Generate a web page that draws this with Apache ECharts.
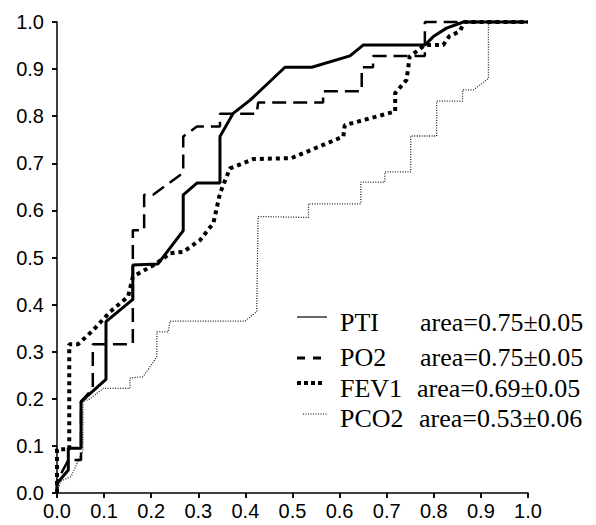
<!DOCTYPE html>
<html>
<head>
<meta charset="utf-8">
<script src="https://cdn.jsdelivr.net/npm/echarts@6/dist/echarts.min.js"></script>
<style>
    html, body { margin: 0; padding: 0; background: #fff; }
    #chart { width: 596px; height: 525px; }
</style>
</head>
<body>
<div id="chart"></div>
<script>
    // tick values (same on both axes)
    var ticks = [0, 0.1, 0.2, 0.3, 0.4, 0.5, 0.6, 0.7, 0.8, 0.9, 1.0];

    // ROC curves: [1 - specificity, sensitivity]
    var pti = [[0, 0], [0, 0.02], [0.024, 0.049], [0.024, 0.095], [0.051, 0.095], [0.051, 0.194],
        [0.104, 0.241], [0.104, 0.364], [0.161, 0.411], [0.161, 0.484], [0.214, 0.486],
        [0.268, 0.557], [0.268, 0.633], [0.297, 0.658], [0.346, 0.658], [0.346, 0.757],
        [0.374, 0.806], [0.41, 0.834], [0.484, 0.904], [0.541, 0.904], [0.622, 0.928],
        [0.65, 0.951], [0.781, 0.951], [0.799, 0.969], [0.827, 0.987], [0.863, 1.0], [1.0, 1.0]];

    var po2 = [[0, 0], [0, 0.025], [0.024, 0.07], [0.051, 0.07], [0.051, 0.194], [0.076, 0.222],
        [0.076, 0.316], [0.161, 0.316], [0.161, 0.558], [0.185, 0.558], [0.185, 0.633],
        [0.204, 0.633], [0.268, 0.68], [0.268, 0.757], [0.297, 0.778], [0.346, 0.778],
        [0.346, 0.805], [0.424, 0.805], [0.427, 0.829], [0.565, 0.829], [0.565, 0.853],
        [0.647, 0.853], [0.647, 0.904], [0.671, 0.904], [0.671, 0.928], [0.781, 0.928],
        [0.781, 1.0], [1.0, 1.0]];

    var fev1 = [[0, 0], [0, 0.093], [0.026, 0.093], [0.026, 0.316], [0.045, 0.316], [0.077, 0.346],
        [0.113, 0.385], [0.151, 0.417], [0.161, 0.459], [0.212, 0.488], [0.24, 0.509],
        [0.268, 0.512], [0.304, 0.537], [0.332, 0.573], [0.346, 0.636], [0.367, 0.689],
        [0.417, 0.709], [0.498, 0.711], [0.608, 0.757], [0.611, 0.781], [0.718, 0.81],
        [0.718, 0.849], [0.742, 0.877], [0.749, 0.927], [0.781, 0.951], [0.82, 0.951],
        [0.833, 0.97], [0.855, 0.98], [0.865, 1.0], [1.0, 1.0]];

    var pco2 = [[0, 0], [0.008, 0.025], [0.03, 0.035], [0.055, 0.09], [0.055, 0.194], [0.07, 0.2],
        [0.098, 0.222], [0.155, 0.222], [0.155, 0.244], [0.183, 0.247], [0.212, 0.289],
        [0.212, 0.342], [0.236, 0.342], [0.24, 0.365], [0.399, 0.365], [0.424, 0.385],
        [0.427, 0.587], [0.534, 0.585], [0.534, 0.614], [0.645, 0.614], [0.645, 0.66],
        [0.696, 0.66], [0.696, 0.682], [0.751, 0.682], [0.751, 0.758], [0.806, 0.758],
        [0.806, 0.832], [0.861, 0.832], [0.861, 0.856], [0.884, 0.856], [0.916, 0.88],
        [0.916, 1.0], [1.0, 1.0]];

    var names = ['PTI', 'PO2', 'FEV1', 'PCO2'];
    var areas = ['area=0.75±0.05', 'area=0.75±0.05', 'area=0.69±0.05', 'area=0.53±0.06'];

    var fmt = function (v) { return v.toFixed(1); };

    // one visible axis (outside ticks) + one overlay (inside ticks) so ticks cross the line
    var baseAxis = function (inside, show) {
        return {
            type: 'value', min: ticks[0], max: ticks[ticks.length - 1], interval: 0.1,
            axisLine: { show: show, lineStyle: { color: '#000', width: 1.5 } },
            axisTick: { show: true, inside: inside, length: 5, lineStyle: { color: '#000', width: 1.5 } },
            axisLabel: { show: show, formatter: fmt, color: '#000', fontFamily: 'Liberation Sans', fontSize: 20 },
            splitLine: { show: false }
        };
    };

    var xa = baseAxis(false, true); xa.axisLabel.margin = 8;
    var xb = baseAxis(true, false);
    var ya = baseAxis(false, true); ya.axisLabel.margin = 13;
    var yb = baseAxis(true, false);

    var line = function (name, data, style) {
        return {
            name: name, type: 'line', data: data, showSymbol: false, clip: false,
            lineStyle: style, silent: true
        };
    };

    // legend drawn as graphic
    var rows = [322, 357, 388, 418];
    var areaX = [420, 420, 417, 419];
    var samples = [
        { y: 317, x1: 297, x2: 327, style: { stroke: '#000', lineWidth: 1.2 } },
        { y: 358, x1: 297, x2: 324, style: { stroke: '#000', lineWidth: 3, lineDash: [8, 8] } },
        { y: 383, x1: 297, x2: 325, style: { stroke: '#000', lineWidth: 4, lineDash: [4, 3] } },
        { y: 414, x1: 303, x2: 328, style: { stroke: '#000', lineWidth: 1, lineDash: [1, 1.5] } }
    ];
    var graphics = [];
    for (var i = 0; i < 4; i++) {
        graphics.push({
            type: 'line', shape: { x1: samples[i].x1, y1: samples[i].y, x2: samples[i].x2, y2: samples[i].y },
            style: samples[i].style
        });
        graphics.push({
            type: 'text', x: 340, y: rows[i],
            style: { text: names[i], font: '26px "Liberation Serif"', fill: '#000', textVerticalAlign: 'middle' }
        });
        graphics.push({
            type: 'text', x: areaX[i], y: rows[i],
            style: { text: areas[i], font: '26px "Liberation Serif"', fill: '#000', textVerticalAlign: 'middle' }
        });
    }

    var option = {
        animation: false,
        backgroundColor: '#fff',
        grid: { left: 57, right: 68, top: 22, bottom: 32, containLabel: false },
        xAxis: [xa, xb],
        yAxis: [ya, yb],
        series: [
            line('PCO2', pco2, { color: '#222', width: 1.3, type: [1, 1.5] }),
            line('FEV1', fev1, { color: '#000', width: 4, type: [4, 4] }),
            line('PO2', po2, { color: '#000', width: 2.5, type: [14, 7] }),
            line('PTI', pti, { color: '#000', width: 3, type: 'solid' })
        ],
        graphic: graphics
    };

    var chart = echarts.init(document.getElementById('chart'), null, { renderer: 'svg' });
    chart.setOption(option);
</script>
</body>
</html>
